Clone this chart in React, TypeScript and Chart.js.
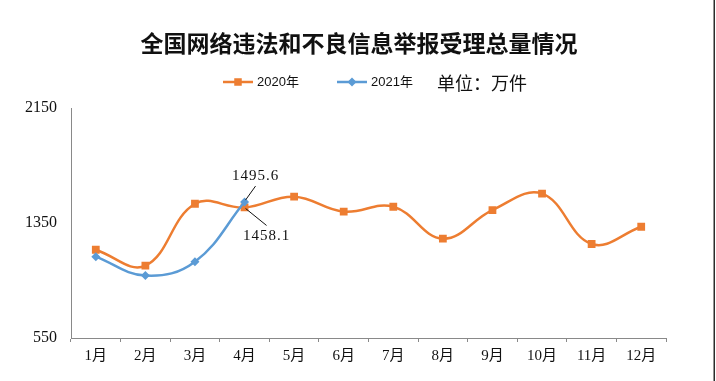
import React, { useEffect, useRef } from 'react';
import { Chart, registerables } from 'chart.js';

Chart.register(...registerables);

const TITLE = '全国网络违法和不良信息举报受理总量情况';
const UNIT_TEXT = '单位：万件';
const MONTHS = ['1月', '2月', '3月', '4月', '5月', '6月', '7月', '8月', '9月', '10月', '11月', '12月'];
const LABEL_2020 = '2020年';
const LABEL_2021 = '2021年';
const VALUES_2020 = [1164, 1053, 1484, 1458.1, 1533, 1429, 1463, 1241, 1440, 1554, 1204, 1324];
const VALUES_2021 = [1116, 984, 1081, 1495.6, null, null, null, null, null, null, null, null];
const Y_MIN = 550;
const Y_MAX = 2150;
const Y_STEP = 800;

const ORANGE = '#ED7D31';
const BLUE = '#5B9BD5';
const AXIS = '#898989';
const CJK = '"Noto Sans CJK SC"';
const SERIF = '"Liberation Serif", "Noto Sans CJK SC", serif';

const decorPlugin = {
  id: 'decor',
  afterDatasetsDraw(chart: any) {
    const ctx = chart.ctx as CanvasRenderingContext2D;
    ctx.save();

    // Title
    ctx.fillStyle = '#111';
    ctx.font = `bold 23px ${CJK}`;
    ctx.textAlign = 'center';
    ctx.textBaseline = 'middle';
    ctx.fillText(TITLE, 359, 43);

    // Legend
    const drawLegendItem = (x0: number, color: string, text: string, diamond: boolean) => {
      const y = 82;
      ctx.strokeStyle = color;
      ctx.lineWidth = 2.5;
      ctx.beginPath();
      ctx.moveTo(x0, y);
      ctx.lineTo(x0 + 30, y);
      ctx.stroke();
      ctx.fillStyle = color;
      const cx = x0 + 15;
      if (diamond) {
        ctx.beginPath();
        ctx.moveTo(cx, y - 4.5);
        ctx.lineTo(cx + 4.5, y);
        ctx.lineTo(cx, y + 4.5);
        ctx.lineTo(cx - 4.5, y);
        ctx.closePath();
        ctx.fill();
      } else {
        ctx.fillRect(cx - 3.75, y - 3.75, 7.5, 7.5);
      }
      ctx.fillStyle = '#111';
      ctx.font = `13px "Liberation Sans", ${CJK}`;
      ctx.textAlign = 'left';
      ctx.textBaseline = 'middle';
      ctx.fillText(text, x0 + 34, y);
    };
    drawLegendItem(223, ORANGE, LABEL_2020, false);
    drawLegendItem(337, BLUE, LABEL_2021, true);

    ctx.fillStyle = '#111';
    ctx.font = `18px ${CJK}`;
    ctx.textAlign = 'left';
    ctx.textBaseline = 'middle';
    ctx.fillText(UNIT_TEXT, 437, 83);

    // Data labels for April
    const pBlue = chart.getDatasetMeta(1).data[3];
    const pOrange = chart.getDatasetMeta(0).data[3];
    ctx.font = `15px ${SERIF}`;
    (ctx as any).letterSpacing = '1px';
    ctx.textAlign = 'center';
    ctx.textBaseline = 'middle';
    ctx.strokeStyle = '#111';
    ctx.lineWidth = 1;
    if (pBlue) {
      ctx.fillStyle = '#111';
      ctx.fillText(String(VALUES_2021[3]), pBlue.x + 11, pBlue.y - 26);
      ctx.beginPath();
      ctx.moveTo(pBlue.x + 1, pBlue.y - 2);
      ctx.lineTo(pBlue.x + 11, pBlue.y - 16);
      ctx.stroke();
    }
    if (pOrange) {
      ctx.fillStyle = '#111';
      ctx.fillText(String(VALUES_2020[3]), pOrange.x + 22, pOrange.y + 29);
      ctx.beginPath();
      ctx.moveTo(pOrange.x + 1, pOrange.y + 1);
      ctx.lineTo(pOrange.x + 22, pOrange.y + 18);
      ctx.stroke();
    }
    (ctx as any).letterSpacing = '0px';

    // Right frame line
    ctx.fillStyle = '#2b2b2b';
    ctx.fillRect(713.5, 0, 1.5, 381);
    ctx.restore();
  },
};

export default function App() {
  const ref = useRef<HTMLCanvasElement>(null);

  useEffect(() => {
    const canvas = ref.current;
    if (!canvas) return;
    const chart = new Chart(canvas, {
      type: 'line',
      data: {
        labels: MONTHS,
        datasets: [
          {
            label: LABEL_2020,
            data: VALUES_2020,
            borderColor: ORANGE,
            backgroundColor: ORANGE,
            borderWidth: 2.5,
            pointStyle: 'rect',
            pointRadius: 5.5,
            pointBorderWidth: 0,
            pointBackgroundColor: ORANGE,
            tension: 0.4,
            order: 1,
          },
          {
            label: LABEL_2021,
            data: VALUES_2021,
            borderColor: BLUE,
            backgroundColor: BLUE,
            borderWidth: 2.5,
            pointStyle: 'rectRot',
            pointRadius: 4.5,
            pointBorderWidth: 0,
            pointBackgroundColor: BLUE,
            tension: 0.4,
            spanGaps: false,
            order: 0,
          },
        ],
      },
      options: {
        responsive: false,
        animation: false,
        devicePixelRatio: 1,
        layout: { padding: { top: 108, right: 50, left: 0, bottom: 0 } },
        plugins: {
          legend: { display: false },
          title: { display: false },
          tooltip: { enabled: false },
        },
        scales: {
          x: {
            type: 'category',
            offset: true,
            grid: {
              display: true,
              offset: true,
              drawOnChartArea: false,
              drawTicks: true,
              tickLength: 4,
              color: AXIS,
            },
            border: { display: true, color: AXIS, width: 1 },
            ticks: {
              autoSkip: false,
              maxRotation: 0,
              padding: 5,
              color: '#111',
              font: { family: SERIF, size: 15 },
            },
            afterFit: (s: any) => {
              s.height = 43;
            },
          },
          y: {
            min: Y_MIN,
            max: Y_MAX,
            grid: { display: false, drawTicks: false },
            border: { display: true, color: AXIS, width: 1 },
            ticks: {
              stepSize: Y_STEP,
              padding: 14,
              color: '#111',
              font: { family: SERIF, size: 16 },
              callback: (v: any) => String(v),
            },
            afterFit: (s: any) => {
              s.width = 71;
            },
          },
        },
      },
      plugins: [decorPlugin],
    });
    return () => chart.destroy();
  }, []);

  return (
    <div style={{ position: 'absolute', left: 0, top: 0, width: 716, height: 381, background: '#fff' }}>
      <canvas ref={ref} width={716} height={381} style={{ display: 'block' }} />
    </div>
  );
}
